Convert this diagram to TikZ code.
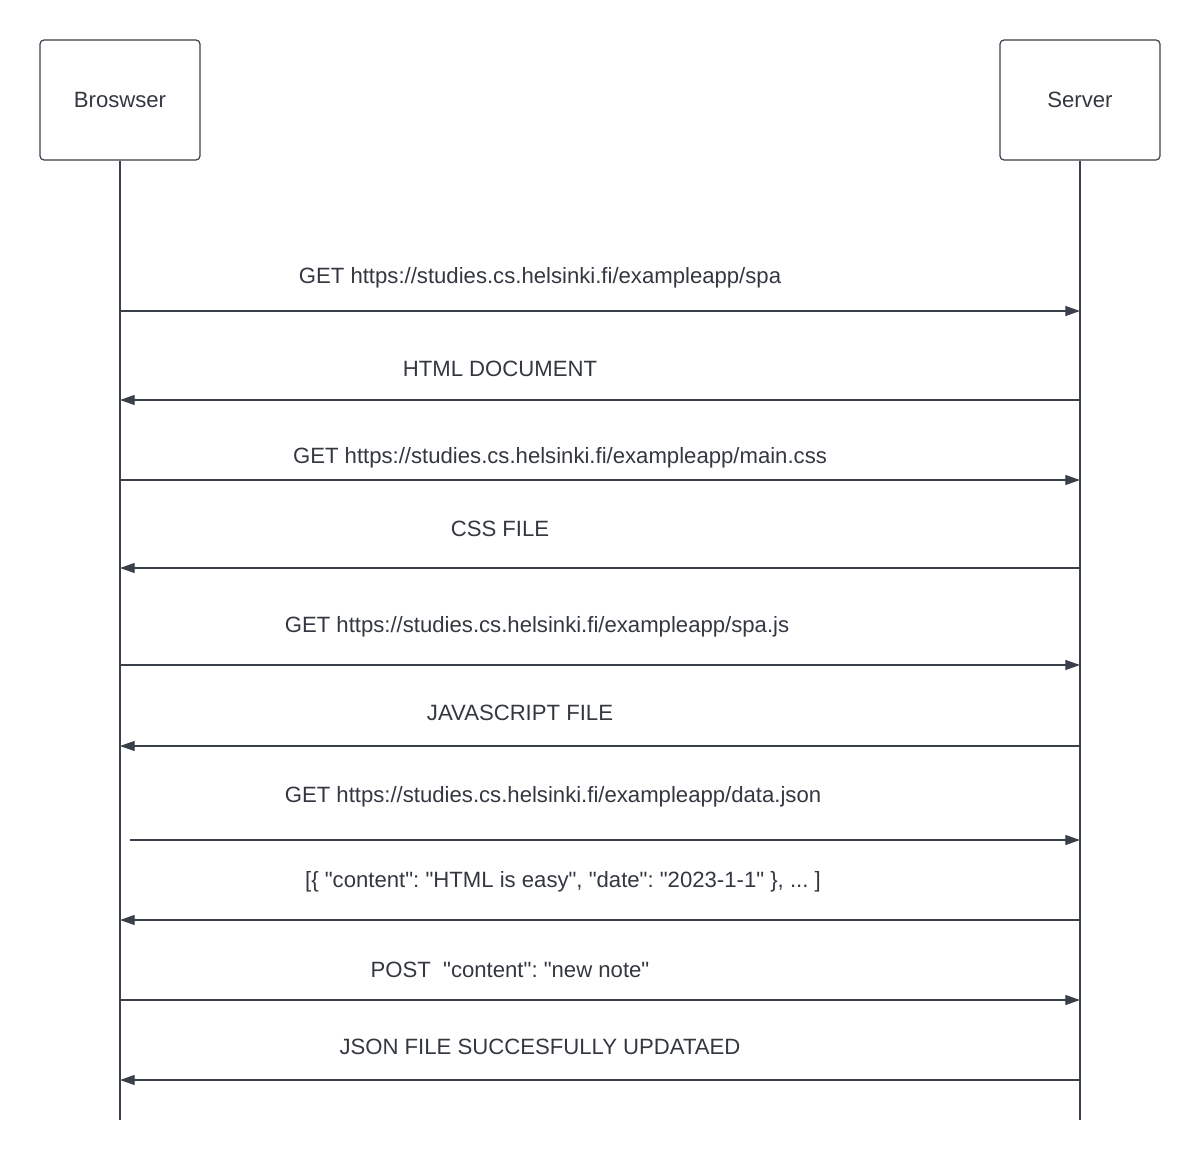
\documentclass[tikz,border=0pt]{standalone}
\usepackage{fontspec}
\setmainfont{Liberation Sans}[Ligatures=TeXOff]
\usetikzlibrary{arrows.meta}
\definecolor{ink}{HTML}{3A4049}
\definecolor{txt}{HTML}{333840}
\frenchspacing
\begin{document}
\begin{tikzpicture}[x=0.75pt,y=-0.75pt,
  actor/.style={draw=ink,line width=0.9pt,rounded corners=3pt,minimum width=120pt,minimum height=90pt,inner sep=0pt,font=\fontsize{16.6}{20}\selectfont,text=txt},
  life/.style={draw=ink,line width=0.9pt},
  msg/.style={draw=ink,line width=0.9pt,-{Triangle[length=11pt,width=7.5pt]}},
  lbl/.style={font=\fontsize{16.6}{20}\selectfont,text=txt,inner sep=0pt}]
\useasboundingbox (0,0) rectangle (1200,1160);
\node[actor] (b) at (120,100) {Broswser};
\node[actor] (s) at (1080,100) {Server};
\coordinate (bend) at (120,1120);
\coordinate (send) at (1080,1120);
\draw[life] (b.south) -- (bend);
\draw[life] (s.south) -- (send);
% message anchors
\foreach \n/\y in {1/311,2/400,3/480,4/568,5/665,6/746,7/840,8/920,9/1000,10/1080}{
  \coordinate (bl\n) at (120,\y);
  \coordinate (sl\n) at (1080,\y);
}
\coordinate (bl7s) at (130,840);
\draw[msg] (bl1) -- (sl1);
\draw[msg] (sl2) -- (bl2);
\draw[msg] (bl3) -- (sl3);
\draw[msg] (sl4) -- (bl4);
\draw[msg] (bl5) -- (sl5);
\draw[msg] (sl6) -- (bl6);
\draw[msg] (bl7s) -- (sl7);
\draw[msg] (sl8) -- (bl8);
\draw[msg] (bl9) -- (sl9);
\draw[msg] (sl10) -- (bl10);
\node[lbl] (t1) at (540,278) {GET https://studies.cs.helsinki.fi/exampleapp/spa};
\node[lbl] (t2) at (500,369) {HTML DOCUMENT};
\node[lbl] (t3) at (560,458) {GET https://studies.cs.helsinki.fi/exampleapp/main.css};
\node[lbl] (t4) at (500,529) {CSS FILE};
\node[lbl] (t5) at (537,627) {GET https://studies.cs.helsinki.fi/exampleapp/spa.js};
\node[lbl] (t6) at (520,713) {JAVASCRIPT FILE};
\node[lbl] (t7) at (553,797) {GET https://studies.cs.helsinki.fi/exampleapp/data.json};
\node[lbl] (t8) at (563,882) {[\{ "content": "HTML is easy", "date": "2023-1-1" \}, ... ]};
\node[lbl] (t9) at (510,970) {POST\ \ "content": "new note"};
\node[lbl] (t10) at (540,1047) {JSON FILE SUCCESFULLY UPDATAED};
\end{tikzpicture}
\end{document}
